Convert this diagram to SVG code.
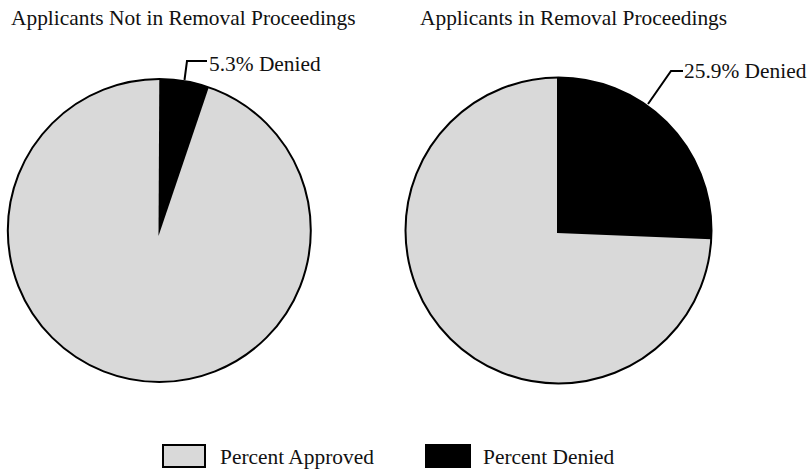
<svg xmlns="http://www.w3.org/2000/svg" width="808" height="469" viewBox="0 0 808 469">
<style>
text{font-family:"Liberation Serif","Times New Roman",serif;font-size:21.4px;fill:#111}
.pie{fill:#d9d9d9;stroke:#000;stroke-width:2}
.den{fill:#000}
.lead{fill:none;stroke:#000;stroke-width:2}
</style>
<rect width="808" height="469" fill="#fff"/>
<text x="11" y="25">Applicants Not in Removal Proceedings</text>
<text x="420" y="25">Applicants in Removal Proceedings</text>
<g id="pie-left">
<circle class="pie" cx="159.3" cy="230.5" r="151.5"/>
<path class="den" d="M158.5,236 L159.3,79 A151.5,151.5 0 0 1 208.8,87.3 Z"/>
</g>
<g id="pie-right">
<circle class="pie" cx="558.5" cy="230.5" r="153"/>
<path class="den" d="M557,233 L557,77.5 A153,153 0 0 1 711.2,239.2 Z"/>
</g>
<g id="connectors">
<path class="lead" d="M184.5,80 L187,61 L207,61"/>
<path class="lead" d="M648,104 L671,71 L683,71"/>
</g>
<g id="label-left"><text x="209" y="71">5.3% Denied</text></g>
<g id="label-right"><text x="684" y="78">25.9% Denied</text></g>
<g id="legend">
<rect x="163" y="445" width="42" height="22" fill="#d9d9d9" stroke="#000" stroke-width="2"/>
<text x="220" y="464">Percent Approved</text>
<rect x="425" y="444" width="46" height="24" fill="#000"/>
<text x="483" y="464">Percent Denied</text>
</g>
</svg>
